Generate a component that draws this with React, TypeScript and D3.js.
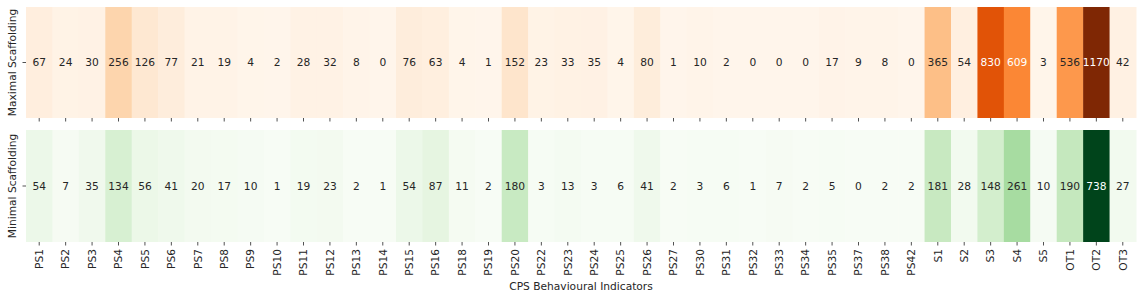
import React from 'react';
import * as d3 from 'd3';

// CPS indicator categories
const categories = [
    'PS1', 'PS2', 'PS3', 'PS4', 'PS5', 'PS6', 'PS7', 'PS8', 'PS9', 'PS10',
    'PS11', 'PS12', 'PS13', 'PS14', 'PS15', 'PS16', 'PS18', 'PS19', 'PS20', 'PS22',
    'PS23', 'PS24', 'PS25', 'PS26', 'PS27', 'PS30', 'PS31', 'PS32', 'PS33', 'PS34',
    'PS35', 'PS37', 'PS38', 'PS42', 'S1', 'S2', 'S3', 'S4', 'S5', 'OT1', 'OT2', 'OT3',
];

const maximalValues = [
    67, 24, 30, 256, 126, 77, 21, 19, 4, 2,
    28, 32, 8, 0, 76, 63, 4, 1, 152, 23,
    33, 35, 4, 80, 1, 10, 2, 0, 0, 0,
    17, 9, 8, 0, 365, 54, 830, 609, 3, 536, 1170, 42,
];

const minimalValues = [
    54, 7, 35, 134, 56, 41, 20, 17, 10, 1,
    19, 23, 2, 1, 54, 87, 11, 2, 180, 3,
    13, 3, 6, 41, 2, 3, 6, 1, 7, 2,
    5, 0, 2, 2, 181, 28, 148, 261, 10, 190, 738, 27,
];

const rowLabels = ['Maximal Scaffolding', 'Minimal Scaffolding'];

// brewer colours, as matplotlib uses them
const orangesColors = ['#fff5eb', '#fee6ce', '#fdd0a2', '#fdae6b', '#fd8d3c', '#f16913', '#d94801', '#a63603', '#7f2704'];
const greensColors = ['#f7fcf5', '#e5f5e0', '#c7e9c0', '#a1d99b', '#74c476', '#41ab5d', '#238b45', '#006d2c', '#00441b'];

const makeScale = (colors: string[], values: number[]) => {
    const min = d3.min(values) as number;
    const max = d3.max(values) as number;
    const step = (max - min) / (colors.length - 1);
    return d3.scaleLinear<string>()
        .domain(colors.map((_, i) => min + i * step))
        .range(colors)
        .interpolate(d3.interpolateRgb)
        .clamp(true);
};

// same rule seaborn uses to pick annotation colour
const textColor = (fill: string) => {
    const c = d3.rgb(fill);
    const lin = (v: number) => {
        const s = v / 255;
        return s <= 0.03928 ? s / 12.92 : Math.pow((s + 0.055) / 1.055, 2.4);
    };
    const lum = 0.2126 * lin(c.r) + 0.7152 * lin(c.g) + 0.0722 * lin(c.b);
    return lum > 0.408 ? '#262626' : '#ffffff';
};

const App: React.FC = () => {
    const width = 1142;
    const height = 299;
    const margin = { left: 26, right: 6 };
    const font = 'DejaVu Sans, sans-serif';
    const fontSize = 10.67;
    const ink = '#262626';

    const x = d3.scaleBand<string>()
        .domain(categories)
        .range([margin.left, width - margin.right]);

    const rows = [
        { label: rowLabels[0], values: maximalValues, color: makeScale(orangesColors, maximalValues), y0: 7, y1: 118 },
        { label: rowLabels[1], values: minimalValues, color: makeScale(greensColors, minimalValues), y0: 130, y1: 242 },
    ];

    return (
        <svg width={width} height={height} style={{ position: 'absolute', left: 0, top: 0 }} fontFamily={font}>
            {rows.map((row, r) => {
                const mid = (row.y0 + row.y1) / 2;
                return (
                    <g key={r}>
                        {row.values.map((v, i) => {
                            const fill = row.color(v);
                            const cx = (x(categories[i]) as number) + x.bandwidth() / 2;
                            return (
                                <g key={i}>
                                    <rect x={x(categories[i])} y={row.y0} width={x.bandwidth() + 0.5}
                                        height={row.y1 - row.y0} fill={fill} />
                                    <text x={cx} y={mid} dy="0.35em" textAnchor="middle" fontSize={fontSize}
                                        fill={textColor(fill)}>{v}</text>
                                    <line x1={cx} x2={cx} y1={row.y1} y2={row.y1 + 3.5} stroke={ink} strokeWidth={0.8} />
                                </g>
                            );
                        })}
                        <line x1={margin.left - 3.5} x2={margin.left} y1={mid} y2={mid} stroke={ink} strokeWidth={0.8} />
                        <text transform={`translate(${16},${mid}) rotate(-90)`} textAnchor="middle" fontSize={fontSize}
                            fill={ink}>{row.label}</text>
                    </g>
                );
            })}
            {categories.map((c) => {
                const cx = (x(c) as number) + x.bandwidth() / 2;
                return (
                    <text key={c} transform={`translate(${cx},${249}) rotate(-90)`} textAnchor="end" dy="0.35em"
                        fontSize={fontSize} fill={ink}>{c}</text>
                );
            })}
            <text x={(margin.left + width - margin.right) / 2} y={290} textAnchor="middle" fontSize={fontSize}
                fill={ink}>CPS Behavioural Indicators</text>
        </svg>
    );
};

export default App;
